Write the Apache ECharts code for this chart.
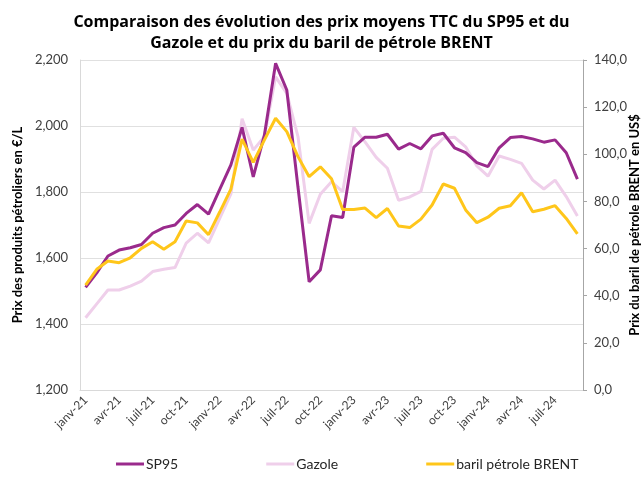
<!DOCTYPE html>
<html>
<head>
<meta charset="utf-8">
<script src="https://cdn.jsdelivr.net/npm/echarts@6/dist/echarts.min.js"></script>
<style>
  html, body { margin: 0; padding: 0; background: #fff; }
  #chart { width: 643px; height: 477px; }
</style>
</head>
<body>
<div id="chart"></div>
<script>
// mois de janv-21 à sept-24
const moisNoms = ['janv', 'févr', 'mars', 'avr', 'mai', 'juin', 'juil', 'août', 'sept', 'oct', 'nov', 'déc'];
const mois = [];
for (let a = 21; a <= 24; a++) {
    for (let m = 0; m < 12; m++) {
        if (a === 24 && m > 8) break;
        mois.push(moisNoms[m] + '-' + a);
    }
}

// prix moyens TTC en €/L (x1000)
const sp95 = [1511, 1555, 1606, 1624, 1631, 1641, 1675, 1692, 1700, 1735, 1762, 1733,
    1808, 1882, 1996, 1846, 1973, 2190, 2109, 1815, 1528, 1564, 1728, 1723,
    1936, 1966, 1966, 1975, 1930, 1947, 1931, 1970, 1978, 1934, 1919, 1889,
    1877, 1934, 1965, 1968, 1961, 1951, 1958, 1919, 1839];

const gazole = [1419, 1461, 1503, 1503, 1515, 1530, 1559, 1566, 1571, 1645, 1675, 1646,
    1720, 1794, 2022, 1927, 1968, 2149, 2099, 1968, 1705, 1793, 1831, 1801,
    1996, 1952, 1905, 1872, 1775, 1785, 1802, 1929, 1963, 1966, 1937, 1879,
    1848, 1909, 1899, 1887, 1836, 1809, 1836, 1786, 1727];

// baril BRENT en US$
const brent = [44.5, 51.2, 54.7, 54.0, 56.1, 60.1, 62.9, 59.7, 62.9, 71.7, 70.9, 65.9,
    75.5, 85.2, 106.4, 96.6, 106.1, 115.3, 109.6, 99.0, 90.5, 94.7, 89.6, 76.6,
    76.6, 77.2, 73.1, 77.0, 69.6, 68.9, 72.5, 78.5, 87.4, 85.6, 76.4, 71.0,
    73.3, 77.1, 78.2, 83.7, 75.6, 76.7, 78.2, 72.8, 66.2];

const chart = echarts.init(document.getElementById('chart'));

function milliers(v) {
    return String(v).replace(/\B(?=(\d{3})+$)/, ',');
}

const police = 'Lato, "Open Sans", sans-serif';

let options = {
    animation: false,
    title: {
        text: 'Comparaison des évolution des prix moyens TTC du SP95 et du\nGazole et du prix du baril de pétrole BRENT',
        left: 'center',
        top: 7,
        textStyle: {
            fontFamily: '"Open Sans", sans-serif',
            fontSize: 16,
            fontWeight: 'bold',
            color: '#000',
            lineHeight: 21
        }
    },
    legend: {
        bottom: 1,
        left: 111,
        itemWidth: 28,
        itemHeight: 3,
        itemGap: 88,
        icon: 'rect',
        textStyle: { fontFamily: police, fontSize: 14, color: '#262626', padding: [0, 0, 0, -3] },
        data: ['SP95', 'Gazole', 'baril pétrole BRENT']
    },
    grid: {
        left: 80,
        right: 60,
        top: 60,
        bottom: 87,
        outerBoundsMode: 'none'
    },
    xAxis: {
        type: 'category',
        data: mois,
        boundaryGap: true,
        axisLine: { lineStyle: { color: '#d9d9d9' } },
        axisTick: { show: false },
        axisLabel: {
            interval: 2,
            rotate: 45,
            fontFamily: police,
            fontSize: 12,
            color: '#404040',
            margin: 8
        }
    },
    yAxis: [{
        type: 'value',
        min: 1200,
        max: 2200,
        interval: 200,
        name: 'Prix des produits pétroliers en €/L',
        nameLocation: 'middle',
        nameGap: 56,
        nameMoveOverlap: false,
        nameTextStyle: { fontFamily: police, fontSize: 13, fontWeight: 'bold', color: '#000' },
        axisLine: { show: true, lineStyle: { color: '#d9d9d9' } },
        axisTick: { show: false },
        splitLine: { lineStyle: { color: '#e0e0e0' } },
        axisLabel: {
            formatter: milliers,
            fontFamily: police,
            fontSize: 13,
            color: '#404040',
            margin: 12
        }
    }, {
        type: 'value',
        min: 0,
        max: 140,
        interval: 20,
        name: 'Prix du baril de pétrole BRENT en US$',
        nameLocation: 'middle',
        nameGap: 45,
        nameRotate: 90,
        nameMoveOverlap: false,
        nameTextStyle: { fontFamily: police, fontSize: 13, fontWeight: 'bold', color: '#000' },
        axisLine: { show: true, lineStyle: { color: '#a6a6a6' } },
        axisTick: { show: true, length: 4, lineStyle: { color: '#a6a6a6' } },
        splitLine: { show: false },
        axisLabel: {
            formatter: function (v) { return v.toFixed(1).replace('.', ','); },
            fontFamily: police,
            fontSize: 13,
            color: '#404040',
            margin: 11
        }
    }],
    series: [{
        name: 'SP95',
        type: 'line',
        data: sp95,
        yAxisIndex: 0,
        symbol: 'none',
        z: 3,
        lineStyle: { width: 3, color: '#9a2a8c' },
        itemStyle: { color: '#9a2a8c' }
    }, {
        name: 'Gazole',
        type: 'line',
        data: gazole,
        yAxisIndex: 0,
        symbol: 'none',
        z: 2,
        lineStyle: { width: 3, color: '#efcfea' },
        itemStyle: { color: '#efcfea' }
    }, {
        name: 'baril pétrole BRENT',
        type: 'line',
        data: brent,
        yAxisIndex: 1,
        symbol: 'none',
        z: 4,
        lineStyle: { width: 3, color: '#ffc61a' },
        itemStyle: { color: '#ffc61a' }
    }]
};

chart.setOption(options);
</script>
</body>
</html>
